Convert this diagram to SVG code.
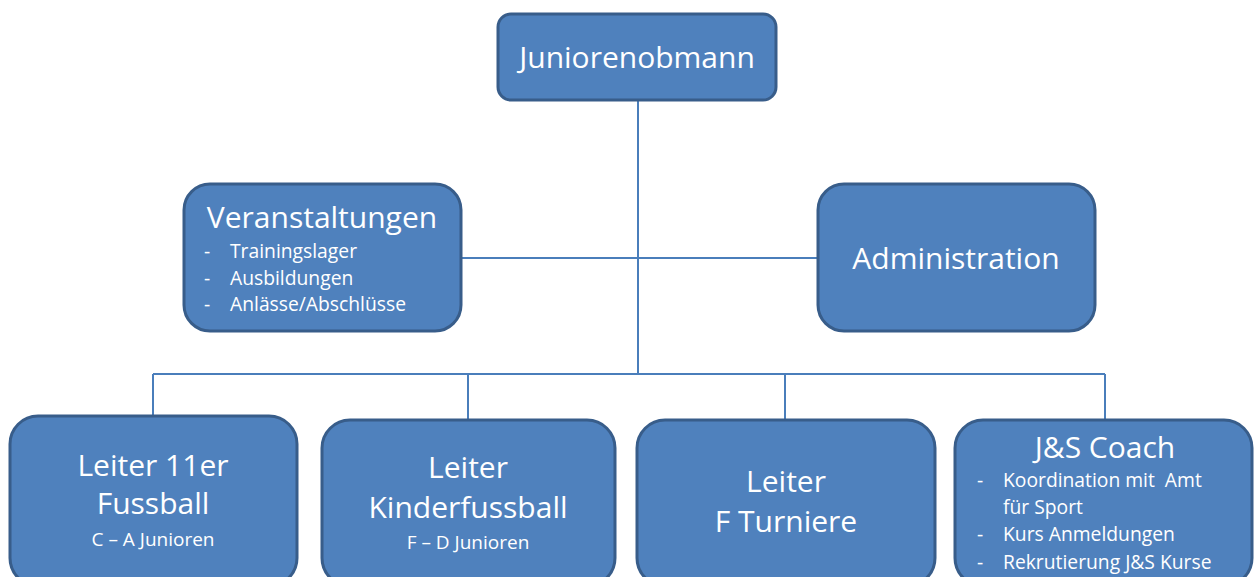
<svg xmlns="http://www.w3.org/2000/svg" width="1254" height="577" viewBox="0 0 1254 577">
<style>
.box{fill:#4F81BD;stroke:#385D8A;stroke-width:3}
.t{font-family:"Open Sans","Liberation Sans",sans-serif;fill:#ffffff;font-size:30px;text-anchor:middle}
.s{font-family:"Open Sans","Liberation Sans",sans-serif;fill:#ffffff;font-size:19.3px;white-space:pre}
.sc{font-family:"Open Sans","Liberation Sans",sans-serif;fill:#ffffff;font-size:19px;text-anchor:middle}
.c{stroke:#4A7EBB;stroke-width:2;fill:none}
</style>
<rect width="1254" height="577" fill="#ffffff"/>
<g id="connectors">
<line class="c" x1="638" y1="100" x2="638" y2="374"/>
<line class="c" x1="460" y1="258" x2="818" y2="258"/>
<line class="c" x1="153" y1="374" x2="1105" y2="374"/>
<line class="c" x1="153" y1="374" x2="153" y2="417"/>
<line class="c" x1="468" y1="374" x2="468" y2="420"/>
<line class="c" x1="785" y1="374" x2="785" y2="420"/>
<line class="c" x1="1105" y1="374" x2="1105" y2="420"/>
</g>
<g id="juniorenobmann">
<rect class="box" x="498" y="14" width="278" height="86" rx="13"/>
<text class="t" x="637" y="68">Juniorenobmann</text>
</g>
<g id="veranstaltungen">
<rect class="box" x="184" y="184" width="277" height="147" rx="26"/>
<text class="t" x="322" y="228">Veranstaltungen</text>
<text class="s" x="204" y="258">-</text><text class="s" x="230" y="258">Trainingslager</text>
<text class="s" x="204" y="285">-</text><text class="s" x="230" y="285">Ausbildungen</text>
<text class="s" x="204" y="311">-</text><text class="s" x="230" y="311">Anlässe/Abschlüsse</text>
</g>
<g id="administration">
<rect class="box" x="818" y="184" width="277" height="147" rx="26"/>
<text class="t" x="956" y="269">Administration</text>
</g>
<g id="leiter11er">
<rect class="box" x="10" y="416" width="287" height="170" rx="28"/>
<text class="t" x="153" y="476">Leiter 11er</text>
<text class="t" x="153" y="514">Fussball</text>
<text class="sc" x="153" y="546">C – A Junioren</text>
</g>
<g id="kinderfussball">
<rect class="box" x="322" y="420" width="293" height="166" rx="28"/>
<text class="t" x="468" y="478">Leiter</text>
<text class="t" x="468" y="518">Kinderfussball</text>
<text class="sc" x="468" y="549">F – D Junioren</text>
</g>
<g id="fturniere">
<rect class="box" x="637" y="420" width="298" height="166" rx="28"/>
<text class="t" x="786" y="492">Leiter</text>
<text class="t" x="786" y="532">F Turniere</text>
</g>
<g id="jscoach">
<rect class="box" x="955" y="420" width="297" height="166" rx="28"/>
<text class="t" x="1105" y="458">J&amp;S Coach</text>
<text class="s" x="977" y="487">-</text><text class="s" x="1003" y="487" xml:space="preserve">Koordination mit  Amt</text>
<text class="s" x="1003" y="514">für Sport</text>
<text class="s" x="977" y="541">-</text><text class="s" x="1003" y="541">Kurs Anmeldungen</text>
<text class="s" x="977" y="569">-</text><text class="s" x="1003" y="569">Rekrutierung J&amp;S Kurse</text>
</g>
</svg>
